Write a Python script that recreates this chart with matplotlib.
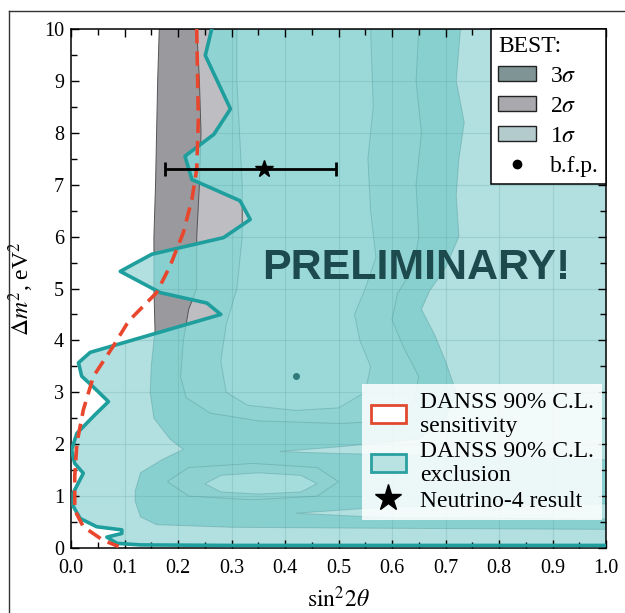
import matplotlib
matplotlib.use('Agg')
import matplotlib.pyplot as plt
from matplotlib.patches import Polygon, Patch
from matplotlib.lines import Line2D

plt.rcParams['font.family'] = ['Liberation Serif', 'DejaVu Serif']
plt.rcParams['mathtext.fontset'] = 'stix'

# DANSS 90% C.L. exclusion curve (sin^2 2theta, dm^2), top to bottom
excl_x = [0.263, 0.251, 0.298, 0.267, 0.213, 0.226, 0.316, 0.335, 0.285, 0.151,
          0.092, 0.167, 0.254, 0.280, 0.036, 0.014, 0.020, 0.039, 0.070, 0.045,
          0.011, 0.001, 0.007, 0.023, 0.004, 0.004, 0.017, 0.048, 0.095, 0.095,
          0.067, 0.086, 0.130, 0.300, 1.000]
excl_y = [10.0, 9.49, 8.46, 7.97, 7.55, 7.10, 6.69, 6.33, 5.98, 5.66,
          5.33, 4.92, 4.72, 4.50, 3.77, 3.57, 3.31, 3.13, 2.82, 2.57,
          2.21, 1.89, 1.63, 1.44, 1.06, 0.81, 0.57, 0.41, 0.35, 0.28,
          0.21, 0.09, 0.06, 0.05, 0.05]

# DANSS 90% C.L. sensitivity curve
sens_x = [0.235, 0.238, 0.235, 0.226, 0.210, 0.185, 0.160, 0.117, 0.104, 0.079,
          0.042, 0.023, 0.011, 0.007, 0.007, 0.023, 0.060, 0.089]
sens_y = [10.0, 8.26, 7.30, 6.72, 6.08, 5.43, 4.92, 4.47, 4.31, 3.89,
          3.31, 2.66, 2.02, 1.38, 0.73, 0.41, 0.15, 0.03]

# Neutrino-4 contours (outer = 3 sigma, middle = 2 sigma, inner = 1 sigma)
c3_x = [0.165, 0.162, 0.160, 0.158, 0.155, 0.155, 0.157, 0.150, 0.148, 0.155,
        0.185, 0.210, 0.170, 0.130, 0.120, 0.120, 0.130, 0.160, 0.300, 0.600,
        1.000, 1.000, 0.600, 0.420, 0.600, 1.000, 1.000, 0.700, 0.500, 0.390,
        0.500, 0.650, 0.700, 0.720, 0.700, 0.680, 0.655, 0.670, 0.700, 0.725,
        0.720, 0.725, 0.735, 0.720, 0.728]
c3_y = [10.0, 9.0, 8.0, 7.0, 6.0, 5.0, 4.2, 3.5, 3.0, 2.5,
        2.1, 1.9, 1.7, 1.45, 1.1, 0.9, 0.6, 0.45, 0.40, 0.38,
        0.36, 0.56, 0.58, 0.67, 0.80, 0.85, 1.70, 1.78, 1.82, 1.86,
        1.95, 2.10, 2.50, 3.00, 3.60, 4.10, 4.60, 4.95, 5.40, 6.00,
        6.80, 7.50, 8.20, 9.00, 10.0]
c2_x = [0.235, 0.240, 0.243, 0.240, 0.235, 0.235, 0.220, 0.210, 0.205, 0.215,
        0.260, 0.350, 0.500, 0.600, 0.640, 0.650, 0.620, 0.600, 0.610, 0.640,
        0.650, 0.645, 0.655, 0.645, 0.650]
c2_y = [10.0, 9.0, 8.0, 7.0, 6.0, 5.0, 4.6, 4.0, 3.3, 2.9,
        2.6, 2.45, 2.40, 2.45, 2.80, 3.30, 3.90, 4.40, 4.90, 5.40,
        6.0, 7.0, 8.0, 9.0, 10.0]
c1_x = [0.310, 0.310, 0.315, 0.320, 0.320, 0.310, 0.290, 0.280, 0.290, 0.330,
        0.420, 0.500, 0.550, 0.560, 0.540, 0.530, 0.550, 0.570, 0.560, 0.555,
        0.565, 0.560]
c1_y = [10.0, 9.0, 8.0, 7.0, 6.0, 5.0, 4.3, 3.6, 3.0, 2.75,
        2.65, 2.70, 3.00, 3.50, 4.00, 4.50, 5.00, 5.60, 6.50, 7.50,
        8.50, 10.0]
# low dm^2 islands
isl2_x = [0.18, 0.22, 0.34, 0.46, 0.50, 0.46, 0.34, 0.22]
isl2_y = [1.28, 1.55, 1.63, 1.55, 1.28, 1.00, 0.93, 1.00]
isl1_x = [0.25, 0.28, 0.35, 0.43, 0.46, 0.43, 0.35, 0.28]
isl1_y = [1.24, 1.40, 1.45, 1.40, 1.24, 1.08, 1.04, 1.08]

bfp = (0.42, 3.31)
n4_x, n4_y = 0.36, 7.3
n4_xerr = [[0.185], [0.135]]

fig = plt.figure(figsize=(6.25, 6.13), dpi=100)
ax = fig.add_axes([0.1136, 0.106, 0.856, 0.8467])
ax.set_xlim(0, 1.0)
ax.set_ylim(0, 10)

# gray Neutrino-4 contours (visible where not excluded)
for xs, ys, col in [(c3_x, c3_y, '#9a9a9e'), (c2_x, c2_y, '#bebec2'), (c1_x, c1_y, '#c3d3d3')]:
    ax.add_patch(Polygon(list(zip(xs, ys)), closed=True, facecolor=col,
                         edgecolor='#555555', lw=0.7, zorder=1))

# exclusion region
ex_pts = list(zip(excl_x, excl_y)) + [(1.0, 10.0)]
excl = Polygon(ex_pts, closed=True, facecolor='#b2dfdf', edgecolor='none', zorder=1.1)
ax.add_patch(excl)

# contours seen through the exclusion
layers = [(c3_x, c3_y, '#88cfcf'), (c2_x, c2_y, '#90d3d3'), (c1_x, c1_y, '#9bd8d8'),
          (isl2_x, isl2_y, '#8ed1d1'), (isl1_x, isl1_y, '#a5dcdc')]
for xs, ys, col in layers:
    p = Polygon(list(zip(xs, ys)), closed=True, facecolor=col,
                edgecolor=(0.35, 0.62, 0.62, 0.45), lw=0.7, zorder=1.2)
    ax.add_patch(p)
    p.set_clip_path(excl)

ax.plot([bfp[0]], [bfp[1]], 'o', color='#2f7a7a', ms=4, zorder=1.3)

ax.set_xticks([0.1 * i for i in range(11)])
ax.set_yticks(range(11))
ax.grid(True, color='#4d8f8f', alpha=0.2, lw=0.8)
for gl in ax.get_xgridlines() + ax.get_ygridlines():
    gl.set_clip_path(excl)

ax.plot(excl_x, excl_y, color='#1f9e9e', lw=2.6, zorder=3)
ax.plot(sens_x, sens_y, color='#e8472e', lw=2.6, dashes=(4, 2.2), zorder=4)

ax.errorbar(n4_x, n4_y, xerr=n4_xerr, fmt='*', color='black', ms=13,
            elinewidth=2, capsize=5, capthick=2, zorder=5)

ax.text(0.645, 5.4, 'PRELIMINARY!', fontsize=31, fontweight='bold',
        family='Liberation Sans', color='#1d4b4d', ha='center', va='center', zorder=6)

ax.set_xticklabels(['0.0', '0.1', '0.2', '0.3', '0.4', '0.5', '0.6', '0.7', '0.8', '0.9', '1.0'])
ax.set_xticks([0.05 + 0.1 * i for i in range(10)], minor=True)
ax.set_yticks([0.5 + i for i in range(10)], minor=True)
ax.tick_params(which='both', direction='in', top=True, right=True, labelsize=14.5)
ax.tick_params(which='major', length=6, width=1)
ax.tick_params(which='minor', length=4, width=1)
ax.tick_params(axis='x', pad=8)
ax.tick_params(axis='y', pad=5)
for s in ax.spines.values():
    s.set_linewidth(1.1)

ax.set_xlabel(r'$\sin^2\!2\theta$', fontsize=17, labelpad=6)
ax.set_ylabel(r'$\Delta m^2$, eV$^2$', fontsize=17, labelpad=6)

h1 = [Patch(facecolor='#7f9595', edgecolor='#222222', lw=1),
      Patch(facecolor='#a9a9ad', edgecolor='#222222', lw=1),
      Patch(facecolor='#b3cbcc', edgecolor='#222222', lw=1),
      Line2D([], [], marker='o', ls='none', color='black', ms=6)]
leg1 = ax.legend(h1, [r'3$\sigma$', r'2$\sigma$', r'1$\sigma$', 'b.f.p.'], title='BEST:',
                 loc='upper right', borderaxespad=0, fontsize=17, title_fontsize=17,
                 fancybox=False, framealpha=1, edgecolor='black', alignment='left',
                 handlelength=1.6, handleheight=0.6, labelspacing=0.38, handletextpad=0.6,
                 borderpad=0.3)
leg1.get_frame().set_linewidth(1.1)
leg1.set_zorder(10)
ax.add_artist(leg1)

h2 = [Patch(facecolor='white', edgecolor='#e04a30', lw=2),
      Patch(facecolor='#b9e3e3', edgecolor='#2aa0a0', lw=2),
      Line2D([], [], marker='*', ls='none', color='black', ms=20)]
leg2 = ax.legend(h2, ['DANSS 90% C.L.\nsensitivity', 'DANSS 90% C.L.\nexclusion',
                      'Neutrino-4 result'],
                 loc='lower right', bbox_to_anchor=(0.993, 0.054), borderaxespad=0,
                 fontsize=17, fancybox=False, framealpha=0.85, facecolor='white',
                 edgecolor='none', handlelength=1.5, handleheight=0.8,
                 labelspacing=0.15, handletextpad=0.6, borderpad=0.35)
leg2.set_zorder(10)

# frame lines of the original picture
fig.add_artist(Line2D([9 / 625, 9 / 625], [0, 1 - 10.5 / 613], color='#333333', lw=1))
fig.add_artist(Line2D([9 / 625, 1], [1 - 10.5 / 613, 1 - 10.5 / 613], color='#333333', lw=1))

fig.savefig('out.png', dpi=100)
